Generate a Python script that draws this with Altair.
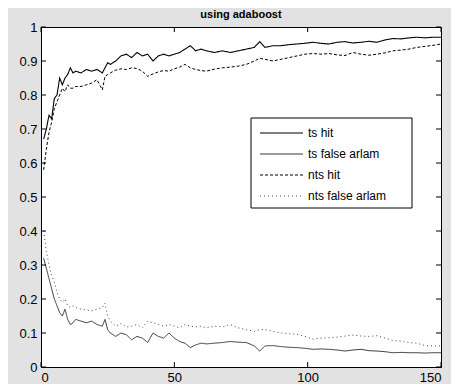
import altair as alt
import pandas as pd

x_vals = [1,2,3,4,5,6,7,8,9,10,11,12,13,15,17,19,21,23,24,25,26,28,30,32,34,36,38,40,42,44,46,48,50,52,54,56,58,60,62,65,68,71,74,77,80,82,84,87,90,93,96,99,102,105,108,111,114,117,120,123,126,129,132,135,138,141,144,147,150]

ts_hit = [0.67,0.70,0.74,0.73,0.79,0.80,0.85,0.83,0.85,0.86,0.88,0.865,0.87,0.865,0.875,0.87,0.875,0.865,0.88,0.895,0.89,0.90,0.915,0.92,0.91,0.925,0.915,0.92,0.90,0.915,0.92,0.915,0.92,0.925,0.935,0.945,0.93,0.935,0.93,0.925,0.93,0.925,0.93,0.935,0.94,0.957,0.94,0.945,0.945,0.948,0.95,0.952,0.955,0.952,0.95,0.955,0.957,0.953,0.955,0.958,0.955,0.962,0.966,0.965,0.968,0.97,0.968,0.97,0.97]

ts_fa = [0.32,0.29,0.26,0.23,0.20,0.18,0.16,0.15,0.17,0.14,0.125,0.13,0.14,0.135,0.13,0.135,0.125,0.12,0.14,0.11,0.10,0.09,0.10,0.095,0.08,0.09,0.085,0.072,0.10,0.09,0.085,0.10,0.085,0.075,0.07,0.057,0.065,0.07,0.068,0.07,0.072,0.075,0.073,0.072,0.062,0.047,0.062,0.063,0.06,0.058,0.057,0.055,0.052,0.053,0.052,0.05,0.047,0.05,0.052,0.048,0.047,0.045,0.042,0.043,0.042,0.042,0.041,0.042,0.042]

nts_hit = [0.58,0.64,0.69,0.72,0.76,0.78,0.80,0.82,0.81,0.83,0.82,0.82,0.825,0.825,0.83,0.835,0.845,0.815,0.855,0.86,0.865,0.873,0.877,0.875,0.88,0.878,0.87,0.855,0.862,0.868,0.872,0.87,0.877,0.882,0.89,0.88,0.875,0.872,0.87,0.876,0.88,0.882,0.885,0.89,0.9,0.908,0.905,0.9,0.905,0.91,0.915,0.92,0.922,0.92,0.922,0.918,0.916,0.925,0.92,0.917,0.92,0.924,0.93,0.932,0.935,0.94,0.943,0.946,0.95]

nts_fa = [0.40,0.34,0.30,0.27,0.25,0.22,0.20,0.19,0.20,0.18,0.175,0.18,0.175,0.17,0.168,0.165,0.17,0.175,0.188,0.15,0.135,0.12,0.128,0.118,0.12,0.125,0.115,0.135,0.13,0.125,0.12,0.125,0.12,0.115,0.125,0.12,0.118,0.12,0.115,0.12,0.118,0.125,0.115,0.11,0.105,0.11,0.11,0.105,0.1,0.098,0.096,0.09,0.082,0.085,0.086,0.088,0.091,0.094,0.091,0.09,0.092,0.085,0.078,0.076,0.072,0.07,0.063,0.062,0.062]

series_names = ["ts hit", "ts false arlam", "nts hit", "nts false arlam"]
series_vals = [ts_hit, ts_fa, nts_hit, nts_fa]
x_ticks = [0, 50, 100, 150]
y_ticks = [0, 0.1, 0.2, 0.3, 0.4, 0.5, 0.6, 0.7, 0.8, 0.9, 1]

styles = {
    "ts hit": dict(color="#000000", dash=[1, 0], width=1.1),
    "ts false arlam": dict(color="#222222", dash=[1, 0], width=0.9),
    "nts hit": dict(color="#000000", dash=[3, 2], width=1.0),
    "nts false arlam": dict(color="#444444", dash=[1, 3], width=1.0),
}

W, H = 400, 340
FONT = "Liberation Sans"

xs = alt.Scale(domain=[0, 150], nice=False, zero=False)
ys = alt.Scale(domain=[0, 1], nice=False)

x_axis = alt.Axis(values=x_ticks, title=None, grid=False, tickSize=0,
                  labelFont=FONT, labelFontSize=13, labelColor="#000",
                  domainColor="#000", labelPadding=4, labelOverlap=False)
y_axis = alt.Axis(values=y_ticks, title=None, grid=False, tickSize=0,
                  labelFont=FONT, labelFontSize=13, labelColor="#000",
                  domainColor="#000", labelPadding=4, format="~g",
                  labelOverlap=False)

layers = []
for name, vals in zip(series_names, series_vals):
    df = pd.DataFrame({"x": x_vals, "y": vals})
    st = styles[name]
    layers.append(
        alt.Chart(df).mark_line(color=st["color"], strokeDash=st["dash"], strokeWidth=st["width"]).encode(
            x=alt.X("x:Q", scale=xs, axis=x_axis),
            y=alt.Y("y:Q", scale=ys, axis=y_axis),
        )
    )

# inward ticks
xt = pd.DataFrame({"t": x_ticks})
yt = pd.DataFrame({"t": y_ticks})
tick_layers = [
    alt.Chart(xt).mark_rule(color="#000").encode(x=alt.X("t:Q", scale=xs, axis=x_axis), y=alt.value(H), y2=alt.value(H - 5)),
    alt.Chart(xt).mark_rule(color="#000").encode(x=alt.X("t:Q", scale=xs, axis=x_axis), y=alt.value(0), y2=alt.value(5)),
    alt.Chart(yt).mark_rule(color="#000").encode(y=alt.Y("t:Q", scale=ys, axis=y_axis), x=alt.value(0), x2=alt.value(5)),
    alt.Chart(yt).mark_rule(color="#000").encode(y=alt.Y("t:Q", scale=ys, axis=y_axis), x=alt.value(W), x2=alt.value(W - 5)),
]

# title
title = alt.Chart(pd.DataFrame({"t": ["using adaboost"]})).mark_text(
    font=FONT, fontSize=11, fontWeight="bold", color="#000", baseline="middle", align="center"
).encode(text="t:N", x=alt.value(200), y=alt.value(-12))

# legend
LX0, LY0, LX1, LY1 = 210, 91, 371, 181
box = alt.Chart(pd.DataFrame({"a": [0]})).mark_rect(fill="white", stroke="#000", strokeWidth=1).encode(
    x=alt.value(LX0), x2=alt.value(LX1), y=alt.value(LY0), y2=alt.value(LY1))
leg_layers = [box]
for i, name in enumerate(series_names):
    st = styles[name]
    yy = LY0 + 15 + i * 21
    leg_layers.append(
        alt.Chart(pd.DataFrame({"a": [0]})).mark_rule(color=st["color"], strokeDash=st["dash"], strokeWidth=st["width"]).encode(
            x=alt.value(LX0 + 9), x2=alt.value(LX0 + 52), y=alt.value(yy))
    )
    leg_layers.append(
        alt.Chart(pd.DataFrame({"t": [name]})).mark_text(font=FONT, fontSize=12, color="#000", align="left", baseline="middle").encode(
            text="t:N", x=alt.value(LX0 + 57), y=alt.value(yy))
    )

chart = alt.layer(*layers, *tick_layers, title, *leg_layers).properties(
    width=W, height=H,
    background="#e2e2e2",
    padding={"left": 33, "top": 19, "right": 10, "bottom": 17},
    autosize=alt.AutoSizeParams(type="none"),
).configure_view(stroke="#000", strokeWidth=1, fill="white")

chart.save("out.html", embed_options={"renderer": "svg", "actions": False})
